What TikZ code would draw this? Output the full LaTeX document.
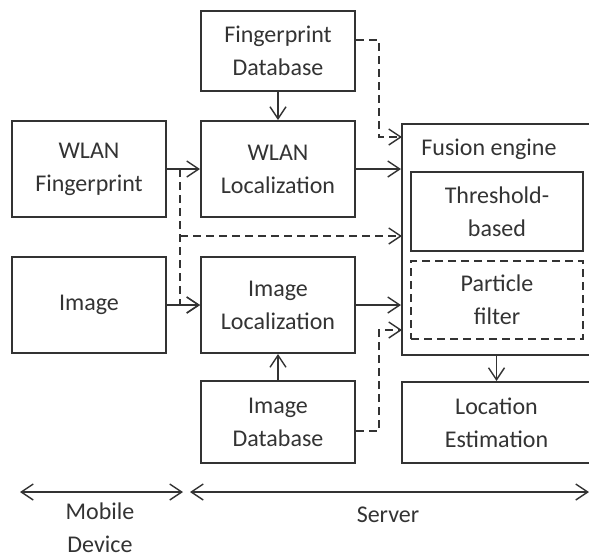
\documentclass[tikz,border=0pt]{standalone}
\usepackage{fontspec}
\setmainfont{Carlito}
\usetikzlibrary{arrows.meta,positioning,calc}

\begin{document}
\begin{tikzpicture}[x=0.5pt, y=-0.5pt, >={Straight Barb[length=6pt,width=8pt]},
    font=\fontsize{12}{16.5}\selectfont, color=black!80,
    box/.style={rectangle, draw, line width=1pt, align=center, minimum width=77pt, minimum height=48pt, inner sep=0pt},
    conn/.style={->, line width=0.7pt},
    dconn/.style={->, line width=0.7pt, dash pattern=on 4pt off 2.5pt}]
    \useasboundingbox (0,0) rectangle (589,558);
    % server side boxes
    \node[box, minimum height=40pt] (fpdb) at (278,51) {Fingerprint\\Database};
    \node[box] (wlanfp) at (89,169) {WLAN\\Fingerprint};
    \node[box] (wlanloc) at (278,169) {WLAN\\Localization};
    \node[box] (img) at (89,305) {Image};
    \node[box] (imgloc) at (278,305) {Image\\Localization};
    \node[box, minimum height=41pt] (imgdb) at (278,422) {Image\\Database};
    \node[box, minimum width=94.5pt, minimum height=115.5pt] (fusion) at (496.5,239.5) {};
    \node[anchor=base west, inner sep=0pt] (fuslbl) at (421,155) {Fusion engine};
    \node[box, minimum width=86pt, minimum height=39.5pt] (thr) at (497,211.5) {Threshold-\\based};
    \node[box, dash pattern=on 4pt off 2.5pt, minimum width=86pt, minimum height=39pt] (pf) at (497,300) {Particle\\filter};
    \node[box, minimum width=94.5pt, minimum height=40.5pt] (locest) at (496.5,422.5) {Location\\Estimation};
    % free ends
    \coordinate (split) at (180,169);
    \coordinate (fin1) at (402,137);
    \coordinate (fin2) at (402,236);
    \coordinate (fin3) at (402,330);
    \draw[conn] (fpdb) -- (wlanloc);
    \draw[conn] (wlanfp) -- (wlanloc);
    \draw[conn] (img) -- (imgloc);
    \draw[conn] (imgdb) -- (imgloc);
    \draw[dconn] (split) |- (imgloc.west);
    \draw[dconn] (split |- fin2) -- (fin2);
    \draw[dconn] ($(fpdb.east)+(0,-11)$) -- ++(23,0) |- (fin1);
    \draw[dconn] ($(imgdb.east)+(0,9)$) -- ++(23,0) |- (fin3);
    \draw[conn] (wlanloc.east) -- (wlanloc.east -| fusion.west);
    \draw[conn] (imgloc.east) -- (imgloc.east -| fusion.west);
    \draw[conn] (fusion.south) -- (locest.north);
    % mobile / server span
    \coordinate (mobL) at (20,492);
    \coordinate (mobR) at (183,492);
    \coordinate (srvL) at (190,492);
    \coordinate (srvR) at (589,492);
    \draw[<->, line width=0.7pt] (mobL) -- (mobR);
    \draw[<->, line width=0.7pt] (srvL) -- (srvR);
    \node[align=center, inner sep=0pt] (moblbl) at (100,528) {Mobile\\Device};
    \node[inner sep=0pt] (srvlbl) at (388,515) {Server};
\end{tikzpicture}
\end{document}
